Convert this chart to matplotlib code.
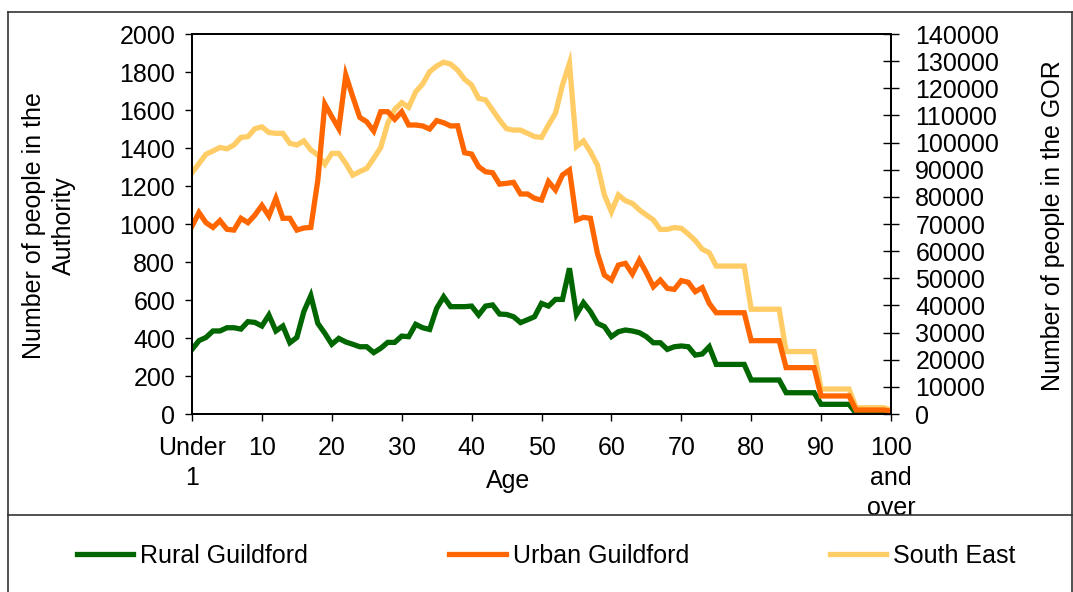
import numpy as np
import matplotlib
matplotlib.use("Agg")
import matplotlib.pyplot as plt
from matplotlib.lines import Line2D

plt.rcParams['font.family'] = ['Liberation Sans', 'DejaVu Sans']

# ---------------- data ----------------
age_index = np.arange(101)
tick_positions = [0, 10, 20, 30, 40, 50, 60, 70, 80, 90, 100]
tick_labels = ["Under\n1", "10", "20", "30", "40", "50", "60", "70", "80", "90", "100\nand\nover"]

rural_guildford = [
    340, 386, 403, 437, 437, 454, 454, 447, 486, 482,
    463, 521, 437, 463, 375, 403, 539, 623, 477, 425,
    367, 398, 379, 367, 354, 354, 323, 346, 377, 377,
    410, 407, 472, 454, 445, 556, 617, 565, 565, 565,
    568, 521, 568, 574, 526, 524, 512, 481, 496, 512,
    582, 568, 603, 603, 767, 524, 586, 539, 477, 460,
    407, 433, 442, 437, 428, 407, 375, 375, 340, 354,
    358, 354, 310, 316, 354, 261, 261, 261, 261, 261,
    179, 179, 179, 179, 179, 112, 112, 112, 112, 112,
    51, 51, 51, 51, 51, 3, 3, 3, 3, 3,
    3]

urban_guildford = [
    989, 1060, 1007, 982, 1018, 972, 968, 1030, 1007, 1047,
    1098, 1042, 1135, 1030, 1030, 968, 979, 982, 1230, 1631,
    1565, 1502, 1784, 1670, 1561, 1538, 1489, 1591, 1591, 1551,
    1591, 1521, 1521, 1516, 1500, 1544, 1533, 1516, 1517, 1375,
    1368, 1302, 1275, 1270, 1210, 1214, 1219, 1158, 1158, 1135,
    1126, 1223, 1179, 1258, 1284, 1021, 1035, 1030, 846, 731,
    705, 784, 793, 737, 810, 744, 670, 705, 661, 656,
    702, 693, 644, 665, 582, 533, 533, 533, 533, 533,
    386, 386, 386, 386, 386, 244, 244, 244, 244, 244,
    95, 95, 95, 95, 95, 21, 21, 21, 21, 21,
    15]

south_east = [
    88900, 92300, 95700, 96900, 98200, 97700, 99100, 101900, 102200, 105100,
    105800, 103700, 103400, 103400, 99700, 99100, 100600, 97300, 95400, 92000,
    96000, 96000, 92300, 88000, 89300, 90500, 94200, 98200, 107100, 112200,
    114700, 113000, 118700, 121600, 126100, 128200, 129600, 128900, 126700, 123300,
    121200, 116300, 115700, 112000, 108300, 105100, 104600, 104600, 103400, 102200,
    101900, 106500, 110800, 121200, 129200, 98500, 100600, 96600, 91700, 80700,
    74500, 80700, 78600, 77600, 75200, 73300, 71500, 68000, 68000, 68700,
    68400, 66300, 63900, 60700, 59400, 54500, 54500, 54500, 54500, 54500,
    38600, 38600, 38600, 38600, 38600, 23000, 23000, 23000, 23000, 23000,
    9200, 9200, 9200, 9200, 9200, 2300, 2300, 2300, 2300, 2300,
    1500]

series_names = ["Rural Guildford", "Urban Guildford", "South East"]
series_colors = ["#006600", "#FF6600", "#FFCC66"]

# ---------------- figure ----------------
W, H = 1073, 592
fig = plt.figure(figsize=(W / 100, H / 100), dpi=100)
fs = 18

L, R, T, B = 192, 891, 34, 414
ax = fig.add_axes([L / W, 1 - B / H, (R - L) / W, (B - T) / H])
ax2 = ax.twinx()
ax.set_zorder(ax2.get_zorder() + 1)
ax.patch.set_visible(False)

lw = 3.8
l3, = ax2.plot(age_index, south_east, color=series_colors[2], lw=lw, solid_joinstyle='miter')
l1, = ax.plot(age_index, rural_guildford, color=series_colors[0], lw=lw, solid_joinstyle='miter')
l2, = ax.plot(age_index, urban_guildford, color=series_colors[1], lw=lw, solid_joinstyle='miter')

ax.set_xlim(0, 100)
ax.set_ylim(0, 2000)
ax2.set_ylim(0, 140000)
ax.set_yticks(np.arange(0, 2001, 200))
ax2.set_yticks(np.arange(0, 140001, 10000))
ax.set_xticks(tick_positions)
ax.set_xticklabels(tick_labels, fontsize=fs, linespacing=1.3)

ax.tick_params(axis='y', direction='out', length=5, width=1, labelsize=fs, pad=7)
ax.tick_params(axis='x', direction='out', length=5, width=1, labelsize=fs, pad=11)
ax2.tick_params(axis='y', direction='inout', length=11, width=1, labelsize=fs, pad=12)

for a in (ax, ax2):
    for s in a.spines.values():
        s.set_linewidth(1.3)
        s.set_color('black')

fig.text(49 / W, 1 - 226 / H, "Number of people in the\nAuthority", rotation=90,
         ha='center', va='center', fontsize=fs, linespacing=1.33)
fig.text(1053 / W, 1 - 226 / H, "Number of people in the GOR", rotation=90,
         ha='center', va='center', fontsize=fs)
fig.text(508 / W, 1 - 481 / H, "Age", ha='center', va='center', fontsize=fs)

# legend
handles = [Line2D([], [], color=c, lw=lw) for c in series_colors]
fig.legend(handles, series_names, loc='center left', ncol=3,
           bbox_to_anchor=(77 / W, 1 - 556 / H), frameon=False, fontsize=fs,
           handlelength=2.25, handletextpad=0.28, columnspacing=5.65,
           borderpad=0, borderaxespad=0)

# chart frame and legend separator
fc = '#333333'
fig.add_artist(Line2D([8 / W, 8 / W], [0, 1 - 12 / H], transform=fig.transFigure, color=fc, lw=1.2))
fig.add_artist(Line2D([8 / W, 1071.5 / W], [1 - 12 / H, 1 - 12 / H], transform=fig.transFigure, color=fc, lw=1.2))
fig.add_artist(Line2D([1071.5 / W, 1071.5 / W], [0, 1 - 12 / H], transform=fig.transFigure, color=fc, lw=1.2))
fig.add_artist(Line2D([8 / W, 1071.5 / W], [1 - 515 / H, 1 - 515 / H], transform=fig.transFigure, color=fc, lw=1.2))

fig.savefig("out.png", dpi=100)
